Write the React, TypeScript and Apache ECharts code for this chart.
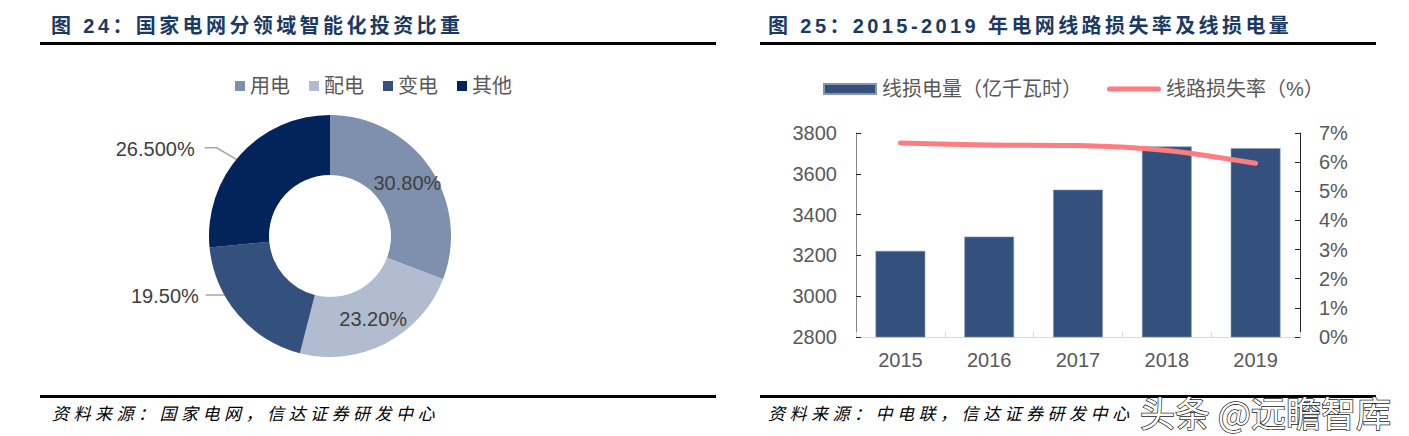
import React, { useEffect, useRef } from 'react';
import * as echarts from 'echarts';

// ---- Left chart: 国家电网分领域智能化投资比重 ----
const pieCategories = ['用电', '配电', '变电', '其他'];
const pieValues = [30.8, 23.2, 19.5, 26.5];
const pieLabels = ['30.80%', '23.20%', '19.50%', '26.500%'];
const pieColors = ['#7F8FAE', '#B1BCD0', '#34507C', '#03245B'];

// ---- Right chart: 2015-2019 年电网线路损失率及线损电量 ----
const years = ['2015', '2016', '2017', '2018', '2019'];
const lossEnergy = [3222, 3292, 3522, 3734, 3725]; // 亿千瓦时
const lossRate = [6.66, 6.59, 6.57, 6.4, 5.96]; // %
const barName = '线损电量（亿千瓦时）';
const lineName = '线路损失率（%）';

const leftTitle = '图 24：国家电网分领域智能化投资比重';
const rightTitle = '图 25：2015-2019 年电网线路损失率及线损电量';
const leftSource = '资料来源：国家电网，信达证券研发中心';
const rightSource = '资料来源：中电联，信达证券研发中心';
const watermark = '头条 @远瞻智库';

// thick rounded line used as the legend icon of the line series
const lineIcon =
  'path://M0,0 M54,12 M2.5,3.5 L51.5,3.5 A2.5,2.5 0 0 1 51.5,8.5 L2.5,8.5 A2.5,2.5 0 0 1 2.5,3.5 Z';
const barIcon = 'path://M0,0 M54,12 M1,1 L53,1 L53,11 L1,11 Z';

export default function App() {
  const ref = useRef<HTMLDivElement>(null);

  useEffect(() => {
    if (!ref.current) return;
    const chart = echarts.init(ref.current, null, { renderer: 'svg' });
    const font = "'Liberation Sans', Arial, 'Noto Sans CJK SC', sans-serif";
    const titleFont = "'Liberation Sans', 'Noto Sans CJK SC', sans-serif;letter-spacing:3.4px";
    const sourceFont = "'Noto Sans CJK SC', sans-serif;letter-spacing:4.5px";

    const cx = 330;
    const cy = 236;
    const rIn = 61;
    const rOut = 121;
    const total = pieValues.reduce((a, b) => a + b, 0);
    const midAngle = (i: number) => {
      let s = 0;
      for (let k = 0; k < i; k++) s += pieValues[k];
      return ((s + pieValues[i] / 2) / total) * Math.PI * 2;
    };

    const option: any = {
      animation: false,
      textStyle: { fontFamily: font },
      legend: [
        {
          data: pieCategories,
          left: 230,
          top: 71,
          itemWidth: 10,
          itemHeight: 10,
          itemGap: 19,
          icon: 'rect',
          textStyle: { fontSize: 20, color: '#595959', fontFamily: font },
        },
        {
          data: [
            { name: barName, icon: barIcon },
            { name: lineName, icon: lineIcon },
          ],
          left: 817,
          top: 74,
          itemWidth: 54,
          itemHeight: 12,
          itemGap: 25,
          textStyle: { fontSize: 20, color: '#595959', fontFamily: font },
        },
      ],
      grid: { left: 856, right: 109, top: 133, bottom: 99 },
      xAxis: {
        type: 'category',
        data: years,
        axisLine: { lineStyle: { color: '#D9D9D9', width: 1 } },
        axisTick: { show: true, inside: true, length: 5, lineStyle: { color: '#D9D9D9' } },
        axisLabel: { fontSize: 20, color: '#595959', margin: 13 },
      },
      yAxis: [
        {
          type: 'value',
          min: 2800,
          max: 3800,
          interval: 200,
          axisLine: { show: true, lineStyle: { color: '#868686', width: 1 } },
          axisTick: { show: true, inside: true, length: 5, lineStyle: { color: '#262626' } },
          axisLabel: { fontSize: 20, color: '#595959', margin: 19, formatter: (v: number) => String(v) },
          splitLine: { show: false },
        },
        {
          type: 'value',
          min: 0,
          max: 7,
          interval: 1,
          position: 'right',
          axisLine: { show: true, lineStyle: { color: '#262626', width: 1 } },
          axisTick: { show: true, inside: true, length: 5, lineStyle: { color: '#262626' } },
          axisLabel: { fontSize: 20, color: '#595959', margin: 19, formatter: '{value}%' },
          splitLine: { show: false },
        },
      ],
      series: [
        {
          type: 'pie',
          center: [cx, cy],
          radius: [rIn, rOut],
          startAngle: 90,
          clockwise: true,
          avoidLabelOverlap: false,
          data: pieCategories.map((n, i) => ({
            name: n,
            value: pieValues[i],
            itemStyle: { color: pieColors[i] },
            label: { position: i < 2 ? 'inside' : 'outside' },
            labelLine: { show: i >= 2 },
          })),
          label: {
            formatter: (p: any) => pieLabels[p.dataIndex],
            fontSize: 20,
            color: '#404040',
            fontFamily: font,
          },
          labelLine: { show: true, length: 10, length2: 10, lineStyle: { color: '#A6A6A6', width: 1.5 } },
          labelLayout: (params: any) => {
            const i = params.dataIndex;
            if (i < 2) return {};
            const a = midAngle(i);
            const rm = (rIn + rOut) / 2;
            const px = cx + rm * Math.sin(a);
            const py = cy - rm * Math.cos(a);
            if (i === 2) {
              return {
                x: px - 62,
                y: py + 1,
                align: 'right',
                verticalAlign: 'middle',
                labelLinePoints: [[px, py], [px - 30, py], [px - 55, py]],
              };
            }
            return {
              x: px - 68,
              y: py - 26,
              align: 'right',
              verticalAlign: 'middle',
              labelLinePoints: [[px, py], [px - 46, py - 27], [px - 58, py - 27]],
            };
          },
        },
        {
          type: 'bar',
          name: barName,
          data: lossEnergy,
          barWidth: '56%',
          itemStyle: { color: '#34507C', borderColor: '#8795B0', borderWidth: 0.6 },
          yAxisIndex: 0,
        },
        {
          type: 'line',
          name: lineName,
          data: lossRate,
          yAxisIndex: 1,
          smooth: 0.3,
          symbol: 'none',
          itemStyle: { color: '#FF7C80' },
          lineStyle: { color: '#FF7C80', width: 5, cap: 'round', join: 'round' },
        },
      ],
      graphic: [
        { type: 'rect', shape: { x: 40, y: 42, width: 676, height: 3 }, style: { fill: '#000' } },
        { type: 'rect', shape: { x: 760, y: 42, width: 616, height: 3 }, style: { fill: '#000' } },
        { type: 'rect', shape: { x: 40, y: 395, width: 676, height: 3 }, style: { fill: '#000' } },
        { type: 'rect', shape: { x: 760, y: 395, width: 616, height: 3 }, style: { fill: '#000' } },
        {
          type: 'text',
          style: {
            x: 51, y: 26, text: leftTitle, fill: '#1B3A63', fontSize: 20, fontWeight: 'bold',
            fontFamily: titleFont, align: 'left', verticalAlign: 'middle',
          },
        },
        {
          type: 'text',
          style: {
            x: 768, y: 26, text: rightTitle, fill: '#1B3A63', fontSize: 20, fontWeight: 'bold',
            fontFamily: titleFont, align: 'left', verticalAlign: 'middle',
          },
        },
        {
          type: 'text',
          style: {
            x: 52, y: 412, text: leftSource, fill: '#000', fontSize: 17, fontStyle: 'italic',
            fontFamily: sourceFont, align: 'left', verticalAlign: 'middle',
          },
        },
        {
          type: 'text',
          style: {
            x: 768, y: 412, text: rightSource, fill: '#000', fontSize: 17, fontStyle: 'italic',
            fontFamily: sourceFont, align: 'left', verticalAlign: 'middle',
          },
        },
        {
          type: 'text',
          z: 100,
          style: {
            x: 1140, y: 411, text: watermark, fill: '#fff', stroke: '#1a1a1a', lineWidth: 1.4,
            fontSize: 35, fontFamily: "'Noto Sans CJK SC', sans-serif", align: 'left', verticalAlign: 'middle',
          },
        },
      ],
    };

    chart.setOption(option);
    return () => {
      chart.dispose();
    };
  }, []);

  return (
    <div
      ref={ref}
      style={{ position: 'fixed', left: 0, top: 0, width: 1409, height: 436, background: '#fff' }}
    />
  );
}
